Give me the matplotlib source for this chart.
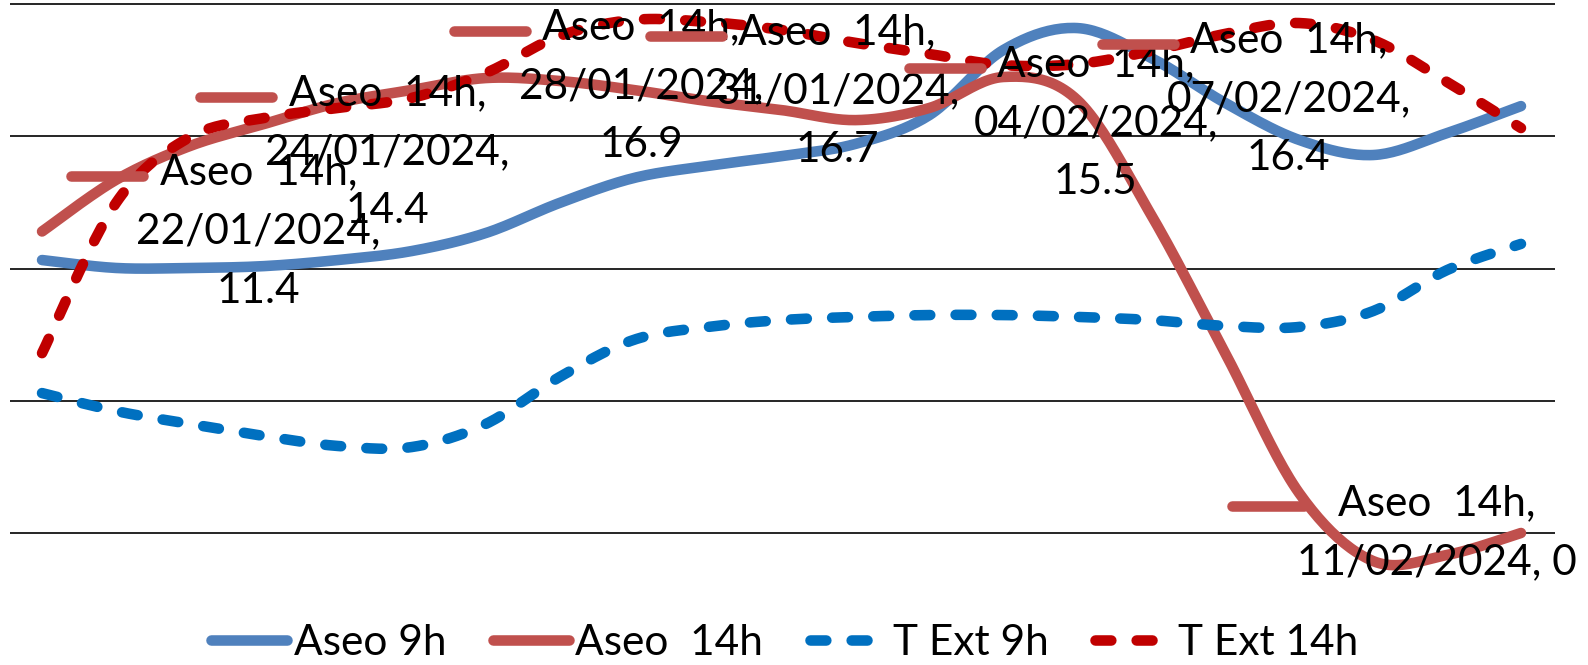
import numpy as np
import pandas as pd
import matplotlib
matplotlib.use('Agg')
import matplotlib.pyplot as plt
from matplotlib.lines import Line2D

plt.rcParams['font.family'] = ['Lato', 'DejaVu Sans']

# daily readings 22/01/2024 .. 11/02/2024
days = pd.date_range('2024-01-22', '2024-02-11', freq='D')

aseo_9h = [10.32, 10.02, 10.02, 10.09, 10.32, 10.66, 11.34, 12.48, 13.42, 13.88, 14.25,
           14.71, 15.80, 18.26, 19.09, 17.96, 16.26, 14.86, 14.29, 15.12, 16.14]
aseo_14h = [11.40, 13.35, 14.63, 15.46, 16.26, 16.75, 17.20, 17.09, 16.75, 16.33, 15.99,
            15.61, 16.07, 17.24, 16.37, 12.02, 6.80, 1.51, -1.06, -0.83, 0.00]
t_ext_9h = [5.29, 4.61, 4.12, 3.67, 3.29, 3.25, 4.12, 5.90, 7.30, 7.79, 8.05,
            8.17, 8.24, 8.24, 8.17, 8.05, 7.83, 7.79, 8.39, 9.94, 10.93]
t_ext_14h = [6.80, 12.48, 14.97, 15.69, 16.07, 16.45, 17.39, 18.79, 19.40, 19.32, 19.02,
             18.53, 18.11, 17.69, 17.73, 18.22, 18.87, 19.28, 18.64, 17.05, 15.31]

# data labels shown on the "Aseo  14h" series
label_dates = ['22/01/2024', '24/01/2024', '28/01/2024', '31/01/2024',
               '04/02/2024', '07/02/2024', '11/02/2024']
label_values = [11.4, 14.4, 16.9, 16.7, 15.5, 16.4, 0]

# label placement (offset in days from the labelled date)
label_dx = [2.93, 2.67, 2.10, 1.75, 1.25, 0.86, -1.14]

series = [
    ('Aseo 9h', aseo_9h, '#4F81BD', '-'),
    ('Aseo  14h', aseo_14h, '#C0504D', '-'),
    ('T Ext 9h', t_ext_9h, '#0070C0', (0, (1.5, 2.4))),
    ('T Ext 14h', t_ext_14h, '#C00000', (0, (1.5, 2.4))),
]

W, H = 1588, 665
FS = 30.5
LW = 7.6


def smooth(x, y, n=24):
    # Bezier smoothing like spreadsheet "smoothed line"
    x = np.asarray(x, float)
    y = np.asarray(y, float)
    P = np.column_stack([x, y])
    P = np.vstack([P[:1], P, P[-1:]])
    t = np.linspace(0, 1, n)[:, None]
    out = []
    for i in range(1, len(P) - 2):
        p0, p1, p2, p3 = P[i - 1], P[i], P[i + 1], P[i + 2]
        c1 = p1 + (p2 - p0) / 6
        c2 = p2 - (p3 - p1) / 6
        seg = ((1 - t) ** 3) * p1 + 3 * ((1 - t) ** 2) * t * c1 + 3 * (1 - t) * t ** 2 * c2 + t ** 3 * p2
        out.append(seg if i == 1 else seg[1:])
    out = np.vstack(out)
    return out[:, 0], out[:, 1]


fig = plt.figure(figsize=(W / 100, H / 100), dpi=100)
# plot area: x 9.5..1555 px, y value 0 at 533 px, 20 at 4 px
ppu = (533 - 4) / 20
y_lo, y_hi = -3, 20.5
bottom_px = 533 + (0 - y_lo) * ppu
top_px = 533 - y_hi * ppu
ax = fig.add_axes([9.5 / W, 1 - bottom_px / H, (1555 - 9.5) / W, (bottom_px - top_px) / H])

x = (days - days[0]).days.values
ax.set_xlim(-0.44, 20.46)
ax.set_ylim(y_lo, y_hi)
ax.set_yticks([0, 5, 10, 15, 20])
ax.grid(axis='y', color='black', lw=1.2)
ax.tick_params(left=False, bottom=False, labelleft=False, labelbottom=False)
for s in ax.spines.values():
    s.set_visible(False)

handles = []
for i, (name, vals, col, ls) in enumerate(series):
    sx, sy = smooth(x, vals)
    ax.plot(sx, sy, color=col, lw=LW, ls=ls, solid_capstyle='round',
            dash_capstyle='round', zorder=3 + i, clip_on=False)
    handles.append(Line2D([], [], color=col, lw=LW, ls=ls, solid_capstyle='round',
                          dash_capstyle='round', label=name))

texts = []
for i, (d, v) in enumerate(zip(label_dates, label_values)):
    day = (pd.to_datetime(d, dayfirst=True) - days[0]).days
    if i == len(label_dates) - 1:
        txt = 'Aseo  14h,\n%s, %g' % (d, v)
    else:
        txt = 'Aseo  14h,\n%s,\n%g' % (d, v)
    t = ax.text(day + label_dx[i], v, txt, ha='center', va='center', multialignment='center',
                fontsize=FS, linespacing=1.68, color='black', zorder=10)
    texts.append(t)

fig.legend(handles=handles, loc='center', bbox_to_anchor=(0.494, 0.033), ncol=4,
           frameon=False, prop={'size': FS}, handlelength=1.8, handletextpad=0.15,
           columnspacing=1.1, borderpad=0)

fig.canvas.draw()
r = fig.canvas.get_renderer()
for t in texts:
    bb = t.get_window_extent(r)
    nlines = t.get_text().count('\n') + 1
    ky = bb.y1 - bb.height / nlines / 2 + 3
    kx0, kx1 = bb.x0 - 65, bb.x0 + 7
    fig.add_artist(Line2D([kx0 / W, kx1 / W], [ky / H, ky / H], color='#C0504D', lw=LW,
                          solid_capstyle='round', transform=fig.transFigure, zorder=9))

fig.savefig('out.png', dpi=100)
